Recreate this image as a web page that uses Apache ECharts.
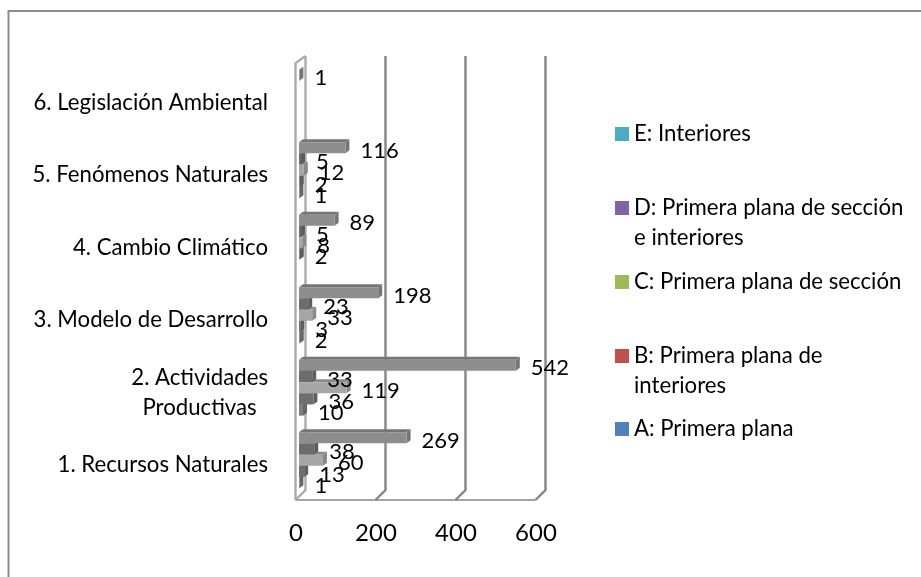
<!DOCTYPE html>
<html>
<head>
<meta charset="utf-8">
<style>html,body{margin:0;padding:0;background:#fff}#c{width:921px;height:577px}</style>
<script src="https://cdn.jsdelivr.net/npm/echarts@6/dist/echarts.min.js"></script>
</head>
<body>
<div id="c"></div>
<script>
var categories = ['1. Recursos Naturales', '2. Actividades\nProductivas\u00a0\u00a0', '3. Modelo de Desarrollo', '4. Cambio Climático', '5. Fenómenos Naturales', '6. Legislación Ambiental'];
var seriesNames = ['A: Primera plana', 'B: Primera plana de interiores', 'C: Primera plana de sección', 'D: Primera plana de sección e interiores', 'E: Interiores'];
var legendText = ['A: Primera plana', '\nB: Primera plana de\ninteriores', 'C: Primera plana de sección', '\nD: Primera plana de sección\ne interiores', 'E: Interiores'];
var valuesA = [1, 10, 2, null, 1, null];
var valuesB = [13, 36, 3, 2, 2, null];
var valuesC = [60, 119, 33, 8, 12, null];
var valuesD = [38, 33, 23, 5, 5, null];
var valuesE = [269, 542, 198, 89, 116, 1];
var xTicks = [0, 200, 400, 600];
var legendColors = ['#4f81bd', '#c0504d', '#9bbb59', '#8064a2', '#4bacc6'];
var barColors = ['#7d7d7d', '#6e6e6e', '#a6a6a6', '#6c6c6c', '#8d8d8d'];
var depthColors = ['#666666', '#5e5e5e', '#8a8a8a', '#5c5c5c', '#757575'];
var legendCenters = [429, 356, 282, 208, 134];

var FONT = 'Lato';
var allValues = [valuesA, valuesB, valuesC, valuesD, valuesE];
var BAR_W = 11, BAR_STEP = 11.22, DX = 4, DY = 3;

var barSeries = allValues.map(function (vals, i) {
  return {
    type: 'bar', name: seriesNames[i], data: vals, z: 5,
    barWidth: BAR_W, barGap: '2%',
    itemStyle: { color: barColors[i] },
    label: {
      show: true, position: 'right', distance: 15, offset: [0, 3],
      color: '#000', fontFamily: FONT, fontSize: 22
    }
  };
}).reverse();

var depthData = [];
allValues.forEach(function (vals, s) {
  vals.forEach(function (v, c) { if (v != null) depthData.push([v, c, s]); });
});

var depthSeries = {
  type: 'custom', name: 'depth', silent: true, z: 4, clip: false,
  data: depthData, encode: { x: 0, y: 1 },
  renderItem: function (p, api) {
    var s = api.value(2);
    var end = api.coord([api.value(0), api.value(1)]);
    var start = api.coord([0, api.value(1)]);
    var cy = end[1] - (s - 2) * BAR_STEP;
    var t = cy - BAR_W / 2, b = cy + BAR_W / 2;
    var fill = depthColors[s];
    return { type: 'group', children: [
      { type: 'polygon', shape: { points: [[start[0], t], [start[0] + DX, t - DY], [end[0] + DX, t - DY], [end[0], t]] }, style: { fill: fill } },
      { type: 'polygon', shape: { points: [[end[0], t], [end[0] + DX, t - DY], [end[0] + DX, b - DY], [end[0], b]] }, style: { fill: fill } }
    ]};
  }
};

var wallSeries = {
  type: 'custom', name: 'walls', silent: true, z: 1, clip: false,
  data: xTicks.map(function (t) { return [t, 0]; }), encode: { x: 0, y: 1 },
  renderItem: function (p, api) {
    var x = api.coord([api.value(0), 0])[0];
    var top = p.coordSys.y - 5.5, backB = p.coordSys.y + p.coordSys.height - 6.5, frontB = p.coordSys.y + p.coordSys.height + 3.5;
    var fx = x - 3.5, bx = x + 6.5;
    var dark = { stroke: '#868686', lineWidth: 2.4, fill: null };
    var light = { stroke: '#ababab', lineWidth: 2.4, fill: null };
    var kids = [];
    kids.push({ type: 'polyline', shape: { points: [[bx, top], [bx, backB], [fx, frontB]] }, style: api.value(0) === 0 ? light : dark });
    if (api.value(0) === 0) {
      kids.push({ type: 'polyline', shape: { points: [[fx, frontB], [fx, top + 7], [bx, top]] }, style: light });
      var endX = api.coord([600, 0])[0] - 3.5;
      kids.push({ type: 'line', shape: { x1: fx, y1: frontB, x2: endX, y2: frontB }, style: { stroke: '#a3a3a3', lineWidth: 2.2 } });
    }
    return { type: 'group', children: kids };
  }
};

var legends = seriesNames.map(function (name, i) {
  var lines = legendText[i].split('\n').length;
  return {
    left: 615, top: legendCenters[i] - lines * 15,
    orient: 'vertical', padding: 0, selectedMode: false,
    itemWidth: 14, itemHeight: 14, itemGap: 0,
    data: [{ name: name, icon: 'rect', itemStyle: { color: legendColors[i] } }],
    formatter: function () { return legendText[i]; },
    textStyle: { color: '#000', fontFamily: FONT, fontSize: 22.2, lineHeight: 30 }
  };
});

var chart = echarts.init(document.getElementById('c'), null, { renderer: 'canvas' });
chart.setOption({
  animation: false,
  backgroundColor: '#fff',
  grid: { left: 299, top: 61.5, width: 240, height: 435, containLabel: false },
  xAxis: {
    type: 'value', min: 0, max: 600, interval: 200,
    axisLine: { show: false }, axisTick: { show: false }, splitLine: { show: false },
    axisLabel: { color: '#000', fontFamily: FONT, fontSize: 24, margin: 25, padding: [0, 6, 0, 0] }
  },
  yAxis: {
    type: 'category', data: categories,
    axisLine: { show: false }, axisTick: { show: false }, splitLine: { show: false },
    axisLabel: {
      margin: 31, interval: 0, align: 'right',
      formatter: function (v) {
        return '{s| }\n' + v.split('\n').map(function (l) { return '{t|' + l + '}'; }).join('\n');
      },
      rich: {
        s: { fontSize: 1, lineHeight: 10 },
        t: { color: '#000', fontFamily: FONT, fontSize: 22.2, lineHeight: 30 }
      }
    }
  },
  legend: legends,
  graphic: [
    { type: 'polyline', shape: { points: [[8.5, 577], [8.5, 11], [921, 11]] }, style: { stroke: '#8c8c8c', lineWidth: 2, fill: null }, silent: true }
  ],
  series: [wallSeries, depthSeries].concat(barSeries)
});
</script>
</body>
</html>
